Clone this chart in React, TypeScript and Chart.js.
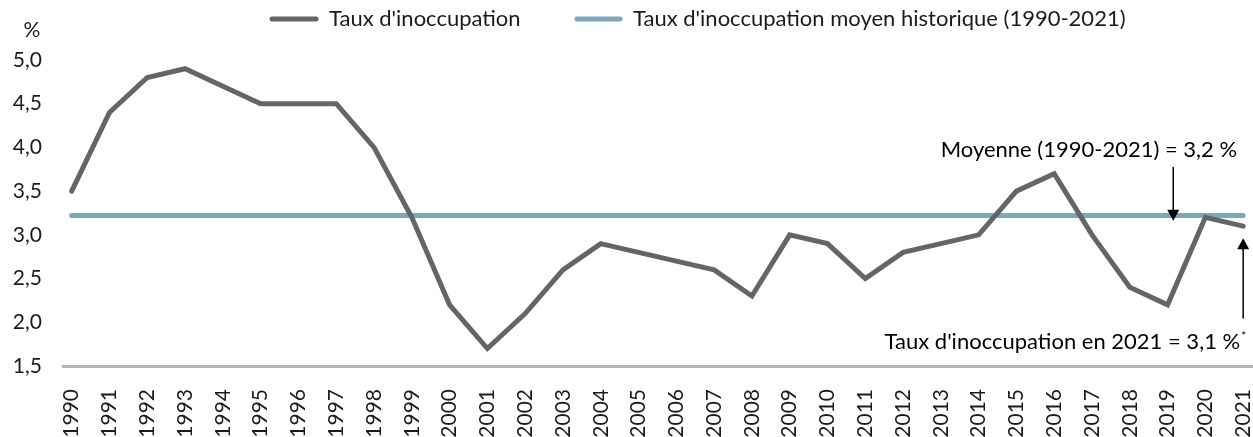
import React, { useEffect, useRef } from "react";
import { Chart, registerables } from "chart.js";

Chart.register(...registerables);

const years = [
  1990, 1991, 1992, 1993, 1994, 1995, 1996, 1997, 1998, 1999, 2000, 2001, 2002, 2003, 2004, 2005,
  2006, 2007, 2008, 2009, 2010, 2011, 2012, 2013, 2014, 2015, 2016, 2017, 2018, 2019, 2020, 2021,
];
const vacancyRate = [
  3.5, 4.4, 4.8, 4.9, 4.7, 4.5, 4.5, 4.5, 4.0, 3.2, 2.2, 1.7, 2.1, 2.6, 2.9, 2.8,
  2.7, 2.6, 2.3, 3.0, 2.9, 2.5, 2.8, 2.9, 3.0, 3.5, 3.7, 3.0, 2.4, 2.2, 3.2, 3.1,
];
const historicalMean = [
  3.22, 3.22, 3.22, 3.22, 3.22, 3.22, 3.22, 3.22, 3.22, 3.22, 3.22, 3.22, 3.22, 3.22, 3.22, 3.22,
  3.22, 3.22, 3.22, 3.22, 3.22, 3.22, 3.22, 3.22, 3.22, 3.22, 3.22, 3.22, 3.22, 3.22, 3.22, 3.22,
];
const seriesLabels = ["Taux d'inoccupation", "Taux d'inoccupation moyen historique (1990-2021)"];
const yTickValues = [1.5, 2.0, 2.5, 3.0, 3.5, 4.0, 4.5, 5.0];
const unitLabel = "%";
const meanNote = "Moyenne (1990-2021) = 3,2 %";
const lastNote = "Taux d'inoccupation en 2021 = 3,1 %";
const lastNoteMark = "*";

const FONT = "Lato, 'Open Sans', sans-serif";
const GREY = "#636669";
const BLUE = "#7fa7b8";
const TEXT = "#1b1b1b";

const seriesColors = [GREY, BLUE];

function drawArrow(ctx: CanvasRenderingContext2D, x: number, y0: number, y1: number) {
  const dir = y1 > y0 ? 1 : -1;
  const head = 11;
  ctx.beginPath();
  ctx.moveTo(x, y0);
  ctx.lineTo(x, y1 - dir * head);
  ctx.strokeStyle = "#000";
  ctx.lineWidth = 1.5;
  ctx.stroke();
  ctx.beginPath();
  ctx.moveTo(x, y1);
  ctx.lineTo(x - 6, y1 - dir * head);
  ctx.lineTo(x + 6, y1 - dir * head);
  ctx.closePath();
  ctx.fillStyle = "#000";
  ctx.fill();
}

const overlayPlugin = {
  id: "overlay",
  afterDraw(chart: any) {
    const { ctx } = chart;
    const xs = chart.scales.x;
    const ys = chart.scales.y;
    ctx.save();

    // legend
    const legendY = 19;
    const items = [
      { x0: 272, x1: 316, tx: 329 },
      { x0: 577, x1: 620, tx: 633 },
    ];
    items.forEach((it, i) => {
      ctx.beginPath();
      ctx.moveTo(it.x0, legendY);
      ctx.lineTo(it.x1, legendY);
      ctx.strokeStyle = seriesColors[i];
      ctx.lineWidth = 5;
      ctx.lineCap = "round";
      ctx.stroke();
      ctx.font = `22px ${FONT}`;
      ctx.fillStyle = TEXT;
      ctx.textAlign = "left";
      ctx.textBaseline = "middle";
      ctx.fillText(seriesLabels[i], it.tx, legendY);
    });

    // unit label
    ctx.font = `21px ${FONT}`;
    ctx.textAlign = "center";
    ctx.textBaseline = "middle";
    ctx.fillStyle = TEXT;
    ctx.fillText(unitLabel, 32, 30);

    // mean annotation
    ctx.fillStyle = "#000";
    ctx.font = `22px ${FONT}`;
    ctx.textAlign = "right";
    ctx.fillText(meanNote, xs.getPixelForValue(2020.84), ys.getPixelForValue(3.97));
    drawArrow(ctx, xs.getPixelForValue(2019.15), ys.getPixelForValue(3.77), ys.getPixelForValue(3.16));

    // 2021 annotation
    const lx = xs.getPixelForValue(2020.92);
    const ly = ys.getPixelForValue(1.77);
    ctx.fillText(lastNote, lx, ly);
    ctx.font = `12px ${FONT}`;
    ctx.textAlign = "left";
    ctx.fillText(lastNoteMark, lx + 1, ly - 6);
    drawArrow(ctx, xs.getPixelForValue(2021), ys.getPixelForValue(2.05), ys.getPixelForValue(2.96));

    ctx.restore();
  },
};

export default function App() {
  const canvasRef = useRef<HTMLCanvasElement | null>(null);

  useEffect(() => {
    if (!canvasRef.current) return;
    const chart = new Chart(canvasRef.current, {
      type: "line",
      data: {
        datasets: [
          {
            label: seriesLabels[0],
            data: years.map((y, i) => ({ x: y, y: vacancyRate[i] })),
            borderColor: GREY,
            backgroundColor: GREY,
            borderWidth: 5,
            borderCapStyle: "round",
            pointRadius: 0,
            tension: 0,
          },
          {
            label: seriesLabels[1],
            data: years.map((y, i) => ({ x: y, y: historicalMean[i] })),
            borderColor: BLUE,
            backgroundColor: BLUE,
            borderWidth: 5,
            borderCapStyle: "round",
            pointRadius: 0,
            tension: 0,
          },
        ],
      },
      options: {
        animation: false,
        responsive: false,
        layout: { padding: { top: 60, left: 0, right: 0, bottom: 0 } },
        plugins: {
          legend: { display: false },
          tooltip: { enabled: false },
        },
        scales: {
          x: {
            type: "linear",
            min: 1989.77,
            max: 2021.26,
            afterBuildTicks: (s: any) => {
              s.ticks = years.map((v) => ({ value: v }));
            },
            afterFit: (s: any) => {
              s.height = 71;
              s.paddingLeft = 0;
              s.paddingRight = 0;
            },
            grid: { display: false, drawTicks: false },
            border: { display: true, color: "#b4b4b4", width: 3 },
            ticks: {
              autoSkip: false,
              minRotation: 90,
              maxRotation: 90,
              padding: 23,
              color: TEXT,
              font: { family: FONT, size: 21 },
              callback: (v: any) => String(v),
            },
          },
          y: {
            type: "linear",
            min: 1.5,
            max: 5.0,
            afterBuildTicks: (s: any) => {
              s.ticks = yTickValues.map((v) => ({ value: v }));
            },
            afterFit: (s: any) => {
              s.width = 63;
              s.paddingTop = 0;
              s.paddingBottom = 0;
            },
            grid: { display: false, drawTicks: false },
            border: { display: false },
            ticks: {
              padding: 21,
              color: TEXT,
              font: { family: FONT, size: 21 },
              callback: (v: any) => Number(v).toFixed(1).replace(".", ","),
            },
          },
        },
      },
      plugins: [overlayPlugin],
    } as any);
    return () => chart.destroy();
  }, []);

  return (
    <div style={{ position: "fixed", left: 0, top: 0, width: 1253, height: 437, background: "#fff" }}>
      <canvas ref={canvasRef} width={1253} height={437} style={{ display: "block" }} />
    </div>
  );
}
